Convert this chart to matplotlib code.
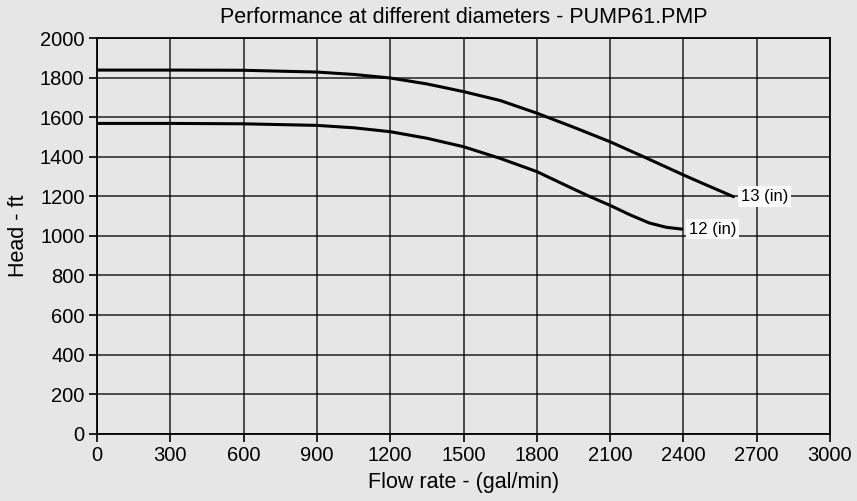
import numpy as np
import matplotlib
matplotlib.use("Agg")
import matplotlib.pyplot as plt

flow_13 = [0, 300, 600, 900, 1050, 1200, 1350, 1500, 1650, 1800, 1950, 2100, 2250, 2400, 2500, 2605]
head_13 = [1840, 1840, 1839, 1830, 1818, 1800, 1770, 1731, 1686, 1622, 1551, 1477, 1394, 1309, 1255, 1199]

flow_12 = [0, 300, 600, 900, 1050, 1200, 1350, 1500, 1650, 1800, 1950, 2020, 2100, 2180, 2260, 2330, 2393]
head_12 = [1570, 1570, 1568, 1560, 1548, 1528, 1495, 1452, 1393, 1326, 1238, 1198, 1155, 1108, 1066, 1044, 1035]

labels = ["13 (in)", "12 (in)"]
x_ticks = list(range(0, 3001, 300))
y_ticks = list(range(0, 2001, 200))

plt.rcParams['font.family'] = ['Liberation Sans', 'DejaVu Sans']
bg = '#e6e6e6'

fig = plt.figure(figsize=(8.57, 5.01), dpi=100, facecolor=bg)
ax = fig.add_axes([0.1132, 0.1347, 0.8553, 0.7885], facecolor=bg)

for fl, hd, lab in [(flow_13, head_13, labels[0]), (flow_12, head_12, labels[1])]:
    ax.plot(fl, hd, color='black', lw=2.2, solid_capstyle='round', zorder=3)
    ax.text(fl[-1] + 30, hd[-1], lab, ha='left', va='center', fontsize=12,
            bbox=dict(facecolor='white', edgecolor='none', pad=2), zorder=4)

ax.set_xlim(0, 3000)
ax.set_ylim(0, 2000)
ax.set_xticks(x_ticks)
ax.set_yticks(y_ticks)
ax.grid(True, color='black', lw=1.1, alpha=0.85)
ax.set_axisbelow(True)
for s in ax.spines.values():
    s.set_color('black')
    s.set_linewidth(1.3)
ax.tick_params(direction='out', length=6, width=1.2, labelsize=14.5, color='black', pad=3)

ax.set_title("Performance at different diameters - PUMP61.PMP", fontsize=15.5, pad=11)
ax.set_xlabel("Flow rate - (gal/min)", fontsize=15.5, labelpad=5)
ax.set_ylabel("Head - ft", fontsize=15.5, labelpad=8)

fig.savefig("out.png", dpi=100, facecolor=bg)
